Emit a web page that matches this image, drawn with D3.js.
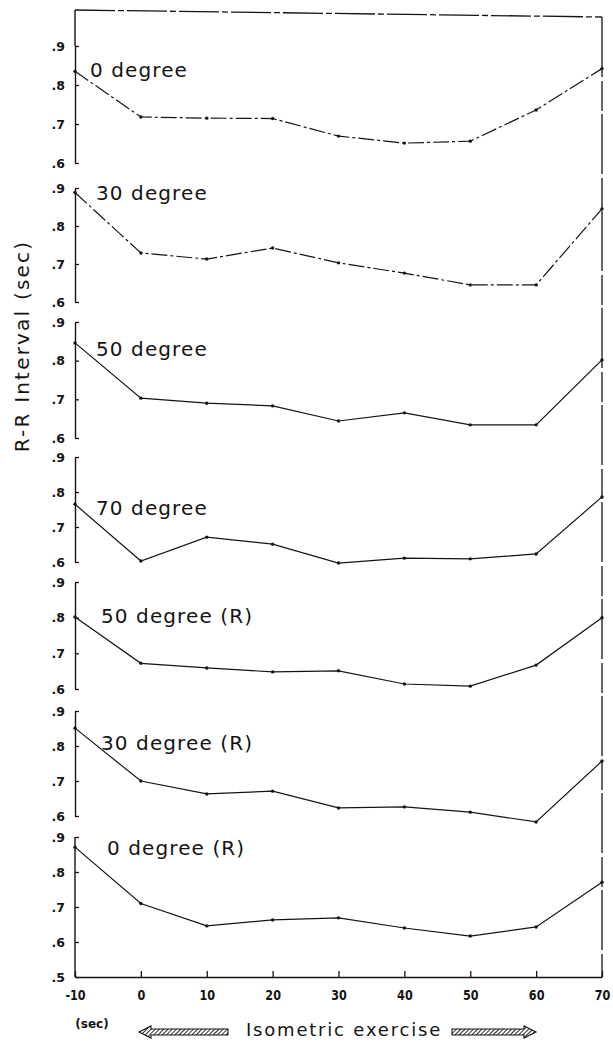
<!DOCTYPE html>
<html>
<head>
<meta charset="utf-8">
<script src="https://cdnjs.cloudflare.com/ajax/libs/d3/7.8.5/d3.min.js"></script>
<style>
body{margin:0;background:#fff;}
#plot{width:613px;height:1042px;}
.tk text{font-family:"DejaVu Sans";font-weight:bold;font-size:12.5px;}
</style>
</head>
<body>
<div id="plot" class="canvas"></div>
<script>
//time points (sec)
var seconds = [-10,0,10,20,30,40,50,60,70];
var panelLabels = ['0 degree','30 degree','50 degree','70 degree','50 degree (R)','30 degree (R)','0 degree (R)'];

//R-R interval (sec) for each tilt
var deg0   = [0.835,0.718,0.715,0.714,0.669,0.651,0.656,0.736,0.842];
var deg30  = [0.888,0.729,0.713,0.742,0.703,0.676,0.645,0.645,0.845];
var deg50  = [0.846,0.703,0.690,0.683,0.644,0.665,0.634,0.634,0.802];
var deg70  = [0.765,0.603,0.671,0.651,0.597,0.611,0.609,0.623,0.786];
var deg50R = [0.802,0.672,0.659,0.648,0.651,0.614,0.608,0.667,0.800];
var deg30R = [0.851,0.700,0.663,0.671,0.623,0.626,0.611,0.583,0.757];
var deg0R  = [0.871,0.710,0.646,0.663,0.669,0.640,0.617,0.643,0.771];
var series = [deg0,deg30,deg50,deg70,deg50R,deg30R,deg0R];

var yTicks = [0.6,0.7,0.8,0.9];
var yTicksLast = [0.5,0.6,0.7,0.8,0.9];
var xTicks = [-10,0,10,20,30,40,50,60,70];

//panel layout (pixel y of the .9 and .6 ticks), label spots
var panelHi = [46,188,322,457,582,711,837];
var panelLo = [163,302,438,562,689,816,942];
var labelX = [90,96,96,96,101,101,107];
var labelY = [77,200,356,515,623,750,855];
var dashed = [true,true,false,false,false,false,false];

var W = 613, H = 1042;
var svg = d3.select('.canvas')
	.append('svg')
	.attr('width',W)
	.attr('height',H);

var x = d3.scaleLinear().domain([-10,70]).range([75,602]);
var topY = 10, bottomY = 977;

var ink = '#141414';

//frame: top, right, left lead-in
svg.append('line')
	.attr('x1',x(-10)).attr('y1',topY)
	.attr('x2',x(70)).attr('y2',topY+7)
	.attr('stroke',ink).attr('stroke-width',1.3)
	.attr('stroke-dasharray','40,3,6,3');
svg.append('line')
	.attr('x1',x(70)).attr('y1',topY+7)
	.attr('x2',x(70)).attr('y2',bottomY)
	.attr('stroke',ink).attr('stroke-width',1.3)
	.attr('stroke-dasharray','60,4,30,3');
svg.append('line')
	.attr('x1',x(-10)).attr('y1',topY)
	.attr('x2',x(-10)).attr('y2',panelHi[0])
	.attr('stroke',ink).attr('stroke-width',1.4);

var fmt = function(d){ return d3.format('.1f')(d).replace('0.','.'); };

series.forEach(function(vals,i){
	var last = (i == series.length-1);
	var y = d3.scaleLinear().domain([0.6,0.9]).range([panelLo[i],panelHi[i]]);

	var ax = d3.axisLeft(y)
		.tickValues(last ? yTicksLast : yTicks)
		.tickFormat(fmt)
		.tickSizeInner(-4)
		.tickSizeOuter(0)
		.tickPadding(10);
	var g = svg.append('g')
		.attr('class','tk')
		.attr('transform','translate('+x(-10)+',0)')
		.call(ax);
	if(last){
		//extend the last panel's axis down to .5
		g.select('.domain').attr('d','M0,'+y(0.9)+'V'+y(0.5));
	}
	g.select('.domain').attr('stroke',ink).attr('stroke-width',1.4);
	g.selectAll('.tick line').attr('stroke',ink).attr('stroke-width',1.3);
	g.selectAll('.tick text').attr('fill',ink);

	var line = d3.line()
		.x(function(d,j){ return x(seconds[j]); })
		.y(function(d){ return y(d); });

	svg.append('path')
		.datum(vals)
		.attr('d',line)
		.attr('fill','none')
		.attr('stroke',ink)
		.attr('stroke-width',1.2)
		.attr('stroke-dasharray',dashed[i] ? '16,3,3,3' : null);

	svg.selectAll('.pt'+i)
		.data(vals)
		.enter()
		.append('circle')
		.attr('cx',function(d,j){ return x(seconds[j]); })
		.attr('cy',function(d){ return y(d); })
		.attr('r',1.7)
		.attr('fill',ink);

	svg.append('text')
		.attr('x',labelX[i])
		.attr('y',labelY[i])
		.style('font-family','DejaVu Sans')
		.style('font-size','20px')
		.style('letter-spacing','1.1px')
		.attr('fill',ink)
		.text(panelLabels[i]);
});

//bottom axis
var xa = d3.axisBottom(x)
	.tickValues(xTicks)
	.tickFormat(function(d){ return d; })
	.tickSizeInner(-6)
	.tickSizeOuter(0)
	.tickPadding(13);
var gx = svg.append('g')
	.attr('transform','translate(0,'+bottomY+')')
	.call(xa);
gx.select('.domain').attr('stroke',ink).attr('stroke-width',1.4);
gx.selectAll('.tick line').attr('stroke',ink).attr('stroke-width',1.3);
gx.selectAll('.tick text')
	.attr('fill',ink)
	.style('font-family','DejaVu Sans')
	.style('font-weight','bold')
	.style('font-size','14px')
	.style('transform','scaleX(0.8)')
	.style('transform-box','fill-box')
	.style('transform-origin','center');

//axis titles
svg.append('text')
	.attr('transform','translate(29,346) rotate(-90)')
	.attr('text-anchor','middle')
	.style('font-family','DejaVu Sans')
	.style('font-size','20px')
	.style('letter-spacing','2.2px')
	.attr('fill',ink)
	.text('R-R Interval (sec)');

svg.append('text')
	.attr('x',92)
	.attr('y',1028)
	.attr('text-anchor','middle')
	.style('font-family','DejaVu Sans')
	.style('font-weight','bold')
	.style('font-size','12px')
	.attr('fill',ink)
	.text('(sec)');

svg.append('text')
	.attr('x',344)
	.attr('y',1036)
	.attr('text-anchor','middle')
	.style('font-family','DejaVu Sans')
	.style('font-size','18px')
	.style('letter-spacing','1.8px')
	.attr('fill',ink)
	.text('Isometric exercise');

//hatched arrows
var defs = svg.append('defs');
var pat = defs.append('pattern')
	.attr('id','hatch')
	.attr('width',3).attr('height',3)
	.attr('patternUnits','userSpaceOnUse')
	.attr('patternTransform','rotate(45)');
pat.append('rect').attr('width',3).attr('height',3).attr('fill','#fff');
pat.append('line').attr('x1',0).attr('y1',0).attr('x2',0).attr('y2',3)
	.attr('stroke',ink).attr('stroke-width',1.8);

function arrow(x0,x1,yc,dir){
	var h = 3, hw = 6, hl = 12;
	var p;
	if(dir<0){
		p = 'M'+x0+','+yc+'L'+(x0+hl)+','+(yc-hw)+'L'+(x0+hl)+','+(yc-h)+'L'+x1+','+(yc-h)+
			'L'+x1+','+(yc+h)+'L'+(x0+hl)+','+(yc+h)+'L'+(x0+hl)+','+(yc+hw)+'Z';
	} else {
		p = 'M'+x1+','+yc+'L'+(x1-hl)+','+(yc-hw)+'L'+(x1-hl)+','+(yc-h)+'L'+x0+','+(yc-h)+
			'L'+x0+','+(yc+h)+'L'+(x1-hl)+','+(yc+h)+'L'+(x1-hl)+','+(yc+hw)+'Z';
	}
	svg.append('path')
		.attr('d',p)
		.attr('fill','url(#hatch)')
		.attr('stroke',ink)
		.attr('stroke-width',1.1);
}
arrow(139,228,1032,-1);
arrow(452,536,1032,1);
</script>
</body>
</html>
